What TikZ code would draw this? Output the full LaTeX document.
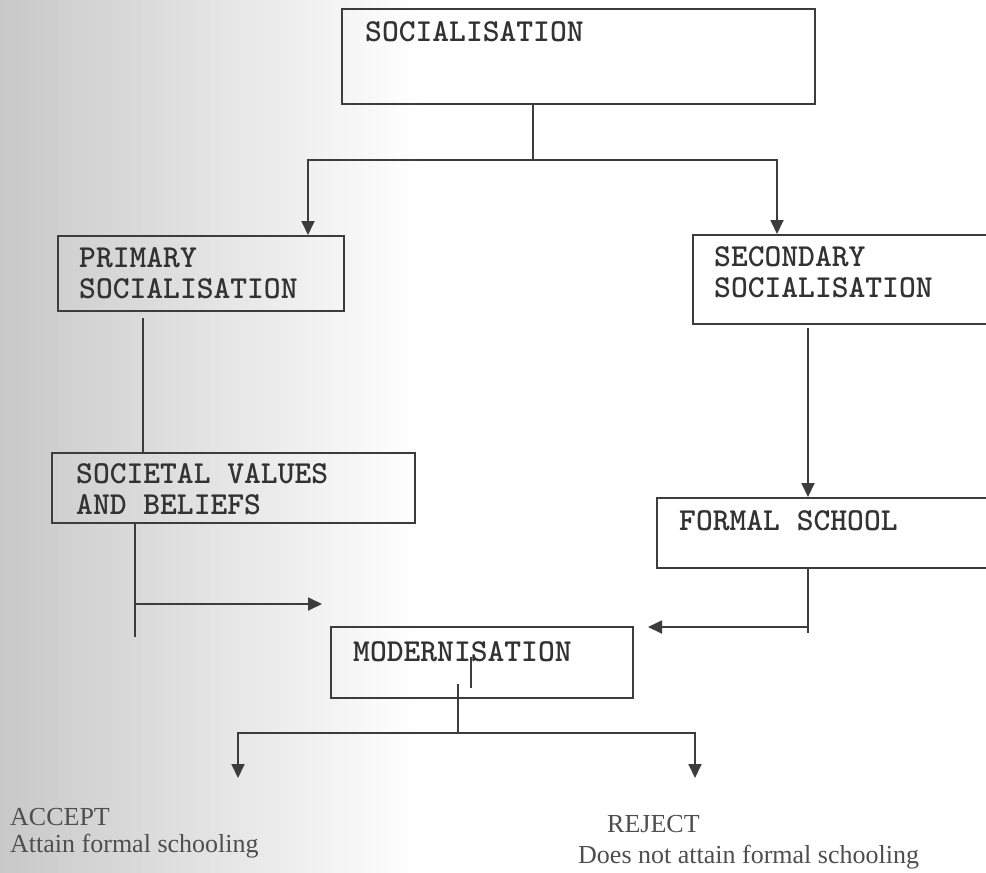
\documentclass[tikz,border=0pt]{standalone}
\usepackage{fontspec}
\setmainfont{Liberation Serif}
\usetikzlibrary{arrows.meta, positioning}
\definecolor{inkgray}{RGB}{60, 60, 60}
\definecolor{textgray}{RGB}{78, 78, 78}
\definecolor{boxtext}{RGB}{50, 50, 50}
\definecolor{scanshade}{RGB}{200, 200, 200}

\begin{document}
\begin{tikzpicture}[
    x=1pt, y=-1pt,
    bx/.style={draw=inkgray, line width=1.8pt, rectangle,
               anchor=north west, inner sep=0pt},
    bxtxt/.style={inner sep=0pt, align=left, text=boxtext,
                  font=\ttfamily\bfseries\fontsize{32}{31}\selectfont},
    ln/.style={draw=inkgray, line width=1.8pt},
    arr/.style={ln, -{Triangle[length=14pt, width=13pt]}},
    outtxt/.style={inner sep=0pt, anchor=base west, text=textgray,
                   font=\fontsize{26}{26}\selectfont},
  ]
  \shade[left color=scanshade, right color=white] (0,0) rectangle (420,873);
  \useasboundingbox (0,0) rectangle (986,873);

  \node[bx, minimum width=473pt, minimum height=95pt] (soc) at (341,8) {};
  \node[bxtxt, below right=13pt and 24pt of soc.north west] (soctxt)
      {SOCIALISATION};
  \node[bx, minimum width=286pt, minimum height=75pt] (prim) at (57,235) {};
  \node[bxtxt, below right=12pt and 22pt of prim.north west] (primtxt)
      {PRIMARY\\SOCIALISATION};
  \node[bx, minimum width=300pt, minimum height=89pt] (sec) at (692,234) {};
  \node[bxtxt, below right=12pt and 22pt of sec.north west] (sectxt)
      {SECONDARY\\SOCIALISATION};
  \node[bx, minimum width=363pt, minimum height=70pt] (val) at (51,452) {};
  \node[bxtxt, below right=11pt and 25pt of val.north west] (valtxt)
      {SOCIETAL VALUES\\AND BELIEFS};
  \node[bx, minimum width=335pt, minimum height=70pt] (formal) at (656,497) {};
  \node[bxtxt, below right=13pt and 23pt of formal.north west] (formaltxt)
      {FORMAL SCHOOL};
  \node[bx, minimum width=302pt, minimum height=71pt] (mod) at (330,626) {};
  \node[bxtxt, below right=15pt and 23pt of mod.north west] (modtxt)
      {MODERNISATION};

  \node[outtxt] (acc) at (10,825) {ACCEPT};
  \node[outtxt] (accnote) at (10,852) {Attain formal schooling};
  \node[outtxt] (rej) at (607,832) {REJECT};
  \node[outtxt] (rejnote) at (578,863) {Does not attain formal schooling};

  \coordinate (split) at (533,160);
  \coordinate (lsplit) at (308,160);
  \coordinate (rsplit) at (777,160);
  \draw[ln] (soc.south -| split) -- (split);
  \draw[arr] (split) -| (lsplit |- prim.north);
  \draw[arr] (split) -| (rsplit |- sec.north);

  \coordinate (pv) at (143,318);
  \draw[ln] (pv) -- (pv |- val.north);
  \coordinate (sf) at (808,328);
  \draw[arr] (sf) -- (sf |- formal.north);

  \coordinate (vdown) at (135,637);
  \coordinate (vtip) at (322,604);
  \draw[ln] (val.south -| vdown) -- (vdown);
  \draw[arr] (vtip -| vdown) -- (vtip);

  \coordinate (fdown) at (808,633);
  \coordinate (ftip) at (648,627);
  \draw[ln] (formal.south -| fdown) -- (fdown);
  \draw[arr] (ftip -| fdown) -- (ftip);

  \coordinate (mstub) at (471,657);
  \coordinate (mstubend) at (471,688);
  \draw[ln] (mstub) -- (mstubend);
  \coordinate (mfoot) at (458,684);
  \coordinate (mjoin) at (458,733);
  \coordinate (acctip) at (238,778);
  \coordinate (rejtip) at (695,778);
  \draw[ln] (mfoot) -- (mjoin);
  \draw[arr] (mjoin) -| (acctip);
  \draw[arr] (mjoin) -| (rejtip);
\end{tikzpicture}
\end{document}
